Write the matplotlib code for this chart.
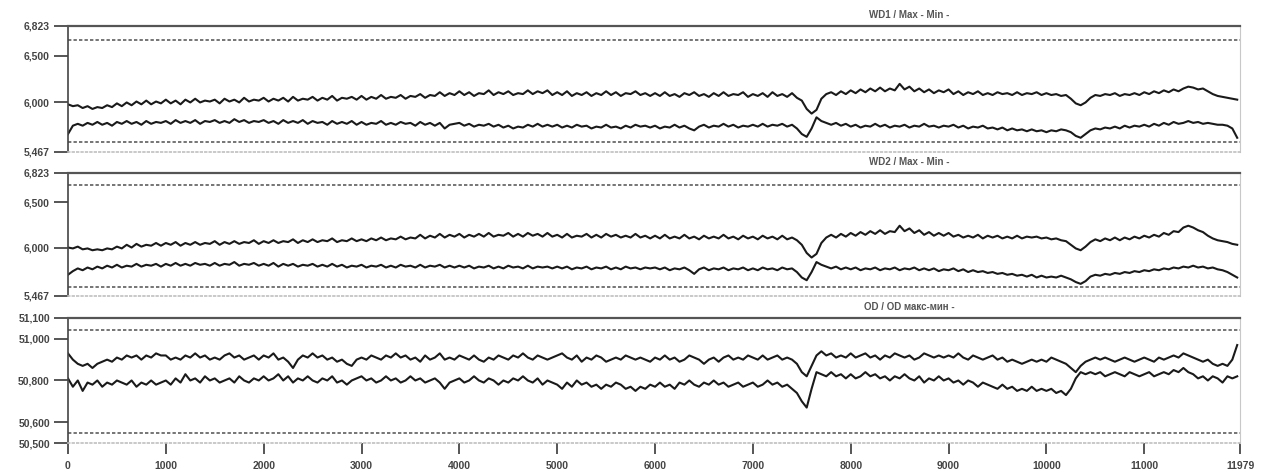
import numpy as np
import matplotlib.pyplot as plt

# sample positions (every 50 points along the record)
x = np.arange(240) * 50

wd1_upper = [
    5.98, 5.96, 5.97, 5.94, 5.96, 5.93, 5.95, 5.94, 5.97, 5.95, 5.99, 5.96, 6.00, 5.97, 6.01, 5.98, 6.02, 5.98, 6.01, 5.99,
    6.03, 5.99, 6.02, 5.98, 6.03, 6.00, 6.04, 6.00, 6.02, 6.01, 6.03, 5.99, 6.04, 6.01, 6.03, 6.00, 6.05, 6.01, 6.03, 6.02,
    6.05, 6.01, 6.04, 6.02, 6.05, 6.01, 6.06, 6.02, 6.04, 6.03, 6.06, 6.02, 6.05, 6.03, 6.07, 6.02, 6.05, 6.04, 6.06, 6.03,
    6.07, 6.03, 6.06, 6.04, 6.08, 6.04, 6.06, 6.05, 6.08, 6.04, 6.07, 6.06, 6.09, 6.05, 6.08, 6.07, 6.11, 6.07, 6.10, 6.08,
    6.12, 6.08, 6.11, 6.07, 6.10, 6.09, 6.13, 6.08, 6.11, 6.09, 6.12, 6.08, 6.10, 6.09, 6.13, 6.09, 6.12, 6.10, 6.13, 6.08,
    6.11, 6.08, 6.12, 6.07, 6.10, 6.08, 6.11, 6.07, 6.10, 6.08, 6.12, 6.08, 6.11, 6.07, 6.10, 6.09, 6.12, 6.08, 6.10, 6.07,
    6.10, 6.07, 6.11, 6.07, 6.09, 6.06, 6.10, 6.08, 6.11, 6.07, 6.09, 6.06, 6.10, 6.07, 6.11, 6.07, 6.09, 6.08, 6.11, 6.06,
    6.09, 6.07, 6.10, 6.06, 6.11, 6.07, 6.09, 6.06, 6.10, 6.05, 6.02, 5.93, 5.88, 5.92, 6.04, 6.09, 6.11, 6.08, 6.12, 6.09,
    6.13, 6.10, 6.14, 6.11, 6.15, 6.12, 6.16, 6.12, 6.15, 6.13, 6.20, 6.14, 6.17, 6.12, 6.15, 6.11, 6.14, 6.10, 6.13, 6.11,
    6.14, 6.09, 6.12, 6.08, 6.11, 6.09, 6.12, 6.08, 6.10, 6.08, 6.11, 6.09, 6.10, 6.08, 6.11, 6.08, 6.10, 6.09, 6.11, 6.08,
    6.10, 6.08, 6.09, 6.07, 6.08, 6.04, 5.99, 5.97, 6.00, 6.05, 6.08, 6.07, 6.09, 6.08, 6.10, 6.07, 6.09, 6.08, 6.10, 6.08,
    6.11, 6.09, 6.12, 6.10, 6.13, 6.11, 6.14, 6.12, 6.15, 6.17, 6.16, 6.14, 6.15, 6.12, 6.09, 6.07, 6.06, 6.05, 6.04, 6.03,
]
wd1_lower = [
    5.66, 5.75, 5.77, 5.75, 5.78, 5.76, 5.79, 5.76, 5.78, 5.75, 5.79, 5.77, 5.80, 5.77, 5.79, 5.76, 5.80, 5.77, 5.79, 5.78,
    5.80, 5.77, 5.81, 5.78, 5.80, 5.78, 5.81, 5.77, 5.80, 5.79, 5.81, 5.78, 5.80, 5.78, 5.82, 5.79, 5.81, 5.78, 5.80, 5.79,
    5.81, 5.78, 5.80, 5.77, 5.81, 5.78, 5.80, 5.78, 5.81, 5.77, 5.80, 5.78, 5.79, 5.76, 5.80, 5.77, 5.79, 5.77, 5.80, 5.76,
    5.79, 5.76, 5.78, 5.77, 5.80, 5.76, 5.78, 5.76, 5.79, 5.77, 5.78, 5.75, 5.79, 5.76, 5.78, 5.75, 5.78, 5.72, 5.76, 5.77,
    5.78, 5.75, 5.77, 5.74, 5.76, 5.75, 5.77, 5.74, 5.76, 5.73, 5.75, 5.72, 5.74, 5.73, 5.76, 5.74, 5.77, 5.74, 5.76, 5.74,
    5.76, 5.73, 5.75, 5.73, 5.76, 5.74, 5.75, 5.72, 5.74, 5.73, 5.76, 5.73, 5.74, 5.72, 5.75, 5.73, 5.76, 5.74, 5.75, 5.73,
    5.75, 5.72, 5.74, 5.73, 5.76, 5.73, 5.75, 5.72, 5.70, 5.74, 5.76, 5.73, 5.75, 5.74, 5.77, 5.74, 5.76, 5.73, 5.75, 5.74,
    5.76, 5.74, 5.77, 5.74, 5.76, 5.75, 5.77, 5.74, 5.76, 5.72, 5.66, 5.63, 5.72, 5.84, 5.80, 5.78, 5.76, 5.78, 5.75, 5.77,
    5.74, 5.76, 5.73, 5.75, 5.74, 5.77, 5.74, 5.76, 5.73, 5.75, 5.74, 5.76, 5.73, 5.75, 5.74, 5.77, 5.74, 5.75, 5.73, 5.75,
    5.74, 5.76, 5.73, 5.75, 5.72, 5.74, 5.73, 5.75, 5.72, 5.73, 5.71, 5.73, 5.70, 5.72, 5.70, 5.71, 5.69, 5.71, 5.69, 5.70,
    5.68, 5.70, 5.69, 5.71, 5.70, 5.68, 5.64, 5.62, 5.66, 5.70, 5.72, 5.71, 5.73, 5.72, 5.74, 5.72, 5.75, 5.73, 5.75, 5.74,
    5.76, 5.74, 5.77, 5.75, 5.78, 5.76, 5.79, 5.77, 5.78, 5.80, 5.78, 5.79, 5.77, 5.78, 5.77, 5.76, 5.76, 5.75, 5.72, 5.62,
]

wd2_upper = [
    6.00, 5.99, 6.01, 5.98, 5.99, 5.97, 5.98, 5.97, 5.99, 5.98, 6.01, 5.99, 6.03, 6.00, 6.04, 6.01, 6.03, 6.02, 6.05, 6.02,
    6.05, 6.03, 6.06, 6.02, 6.05, 6.03, 6.06, 6.03, 6.05, 6.04, 6.07, 6.03, 6.06, 6.04, 6.07, 6.04, 6.06, 6.05, 6.08, 6.04,
    6.07, 6.05, 6.08, 6.05, 6.07, 6.06, 6.09, 6.05, 6.08, 6.06, 6.09, 6.06, 6.08, 6.07, 6.10, 6.06, 6.08, 6.07, 6.10, 6.07,
    6.09, 6.07, 6.10, 6.08, 6.11, 6.08, 6.10, 6.09, 6.12, 6.09, 6.11, 6.10, 6.14, 6.10, 6.13, 6.11, 6.15, 6.11, 6.14, 6.12,
    6.15, 6.11, 6.14, 6.12, 6.15, 6.12, 6.16, 6.12, 6.14, 6.13, 6.16, 6.12, 6.15, 6.12, 6.16, 6.13, 6.15, 6.12, 6.16, 6.12,
    6.14, 6.11, 6.15, 6.11, 6.13, 6.12, 6.15, 6.11, 6.14, 6.11, 6.15, 6.12, 6.14, 6.11, 6.13, 6.11, 6.15, 6.11, 6.13, 6.10,
    6.13, 6.10, 6.14, 6.10, 6.12, 6.10, 6.14, 6.10, 6.12, 6.09, 6.13, 6.10, 6.12, 6.10, 6.14, 6.10, 6.12, 6.09, 6.13, 6.10,
    6.12, 6.09, 6.13, 6.10, 6.12, 6.09, 6.13, 6.09, 6.11, 6.08, 6.03, 5.94, 5.89, 5.93, 6.05, 6.11, 6.14, 6.11, 6.15, 6.12,
    6.16, 6.13, 6.17, 6.14, 6.18, 6.15, 6.19, 6.15, 6.18, 6.17, 6.24, 6.18, 6.21, 6.16, 6.19, 6.14, 6.17, 6.13, 6.16, 6.13,
    6.16, 6.12, 6.14, 6.11, 6.13, 6.11, 6.14, 6.10, 6.13, 6.11, 6.13, 6.10, 6.12, 6.10, 6.13, 6.10, 6.12, 6.11, 6.12, 6.10,
    6.11, 6.09, 6.10, 6.08, 6.07, 6.03, 5.99, 5.97, 6.01, 6.06, 6.09, 6.07, 6.10, 6.08, 6.11, 6.08, 6.11, 6.09, 6.12, 6.10,
    6.13, 6.11, 6.14, 6.12, 6.16, 6.14, 6.18, 6.17, 6.22, 6.24, 6.22, 6.19, 6.17, 6.13, 6.10, 6.08, 6.07, 6.06, 6.04, 6.03,
]
wd2_lower = [
    5.70, 5.74, 5.77, 5.75, 5.78, 5.76, 5.79, 5.77, 5.80, 5.78, 5.81, 5.78, 5.80, 5.79, 5.82, 5.79, 5.81, 5.80, 5.82, 5.79,
    5.82, 5.80, 5.83, 5.80, 5.82, 5.80, 5.83, 5.81, 5.82, 5.80, 5.83, 5.80, 5.82, 5.81, 5.84, 5.80, 5.82, 5.81, 5.83, 5.80,
    5.82, 5.80, 5.83, 5.79, 5.82, 5.80, 5.82, 5.79, 5.81, 5.80, 5.82, 5.79, 5.81, 5.79, 5.82, 5.79, 5.81, 5.78, 5.80, 5.79,
    5.81, 5.78, 5.80, 5.79, 5.81, 5.78, 5.80, 5.78, 5.81, 5.79, 5.80, 5.78, 5.81, 5.78, 5.80, 5.79, 5.81, 5.78, 5.80, 5.78,
    5.80, 5.78, 5.80, 5.77, 5.79, 5.78, 5.80, 5.77, 5.79, 5.77, 5.80, 5.78, 5.79, 5.77, 5.80, 5.77, 5.79, 5.78, 5.79, 5.77,
    5.79, 5.77, 5.79, 5.76, 5.78, 5.77, 5.79, 5.76, 5.78, 5.77, 5.79, 5.76, 5.78, 5.76, 5.79, 5.77, 5.78, 5.76, 5.78, 5.77,
    5.78, 5.76, 5.78, 5.75, 5.77, 5.76, 5.78, 5.75, 5.71, 5.76, 5.78, 5.75, 5.77, 5.76, 5.78, 5.75, 5.77, 5.76, 5.78, 5.75,
    5.77, 5.75, 5.78, 5.76, 5.77, 5.75, 5.78, 5.76, 5.77, 5.73, 5.67, 5.64, 5.73, 5.84, 5.81, 5.79, 5.77, 5.79, 5.76, 5.78,
    5.76, 5.78, 5.75, 5.77, 5.76, 5.78, 5.75, 5.77, 5.76, 5.78, 5.75, 5.77, 5.76, 5.78, 5.75, 5.77, 5.75, 5.77, 5.74, 5.76,
    5.75, 5.77, 5.74, 5.76, 5.73, 5.75, 5.73, 5.74, 5.72, 5.73, 5.71, 5.72, 5.70, 5.71, 5.69, 5.70, 5.68, 5.70, 5.67, 5.69,
    5.67, 5.68, 5.67, 5.69, 5.67, 5.65, 5.62, 5.60, 5.63, 5.68, 5.70, 5.69, 5.71, 5.70, 5.72, 5.71, 5.73, 5.72, 5.74, 5.73,
    5.75, 5.74, 5.76, 5.75, 5.77, 5.76, 5.78, 5.77, 5.79, 5.78, 5.80, 5.78, 5.79, 5.77, 5.78, 5.76, 5.75, 5.73, 5.70, 5.67,
]

od_upper = [
    50.93, 50.90, 50.88, 50.87, 50.88, 50.86, 50.88, 50.89, 50.90, 50.89, 50.91, 50.90, 50.92, 50.91, 50.92, 50.90, 50.92, 50.91, 50.93, 50.92,
    50.92, 50.90, 50.91, 50.90, 50.92, 50.91, 50.93, 50.91, 50.92, 50.90, 50.91, 50.90, 50.92, 50.93, 50.91, 50.92, 50.90, 50.91, 50.92, 50.90,
    50.92, 50.91, 50.93, 50.90, 50.91, 50.89, 50.86, 50.90, 50.92, 50.91, 50.93, 50.91, 50.92, 50.90, 50.91, 50.89, 50.90, 50.88, 50.87, 50.90,
    50.91, 50.90, 50.92, 50.91, 50.90, 50.92, 50.91, 50.93, 50.91, 50.92, 50.90, 50.91, 50.89, 50.92, 50.90, 50.91, 50.93, 50.90, 50.91, 50.90,
    50.92, 50.91, 50.90, 50.92, 50.90, 50.89, 50.91, 50.90, 50.92, 50.91, 50.90, 50.92, 50.91, 50.93, 50.91, 50.90, 50.92, 50.91, 50.90, 50.91,
    50.92, 50.93, 50.91, 50.90, 50.92, 50.89, 50.91, 50.90, 50.92, 50.91, 50.89, 50.90, 50.91, 50.90, 50.92, 50.91, 50.90, 50.91, 50.90, 50.89,
    50.91, 50.90, 50.92, 50.90, 50.91, 50.89, 50.90, 50.92, 50.91, 50.90, 50.88, 50.90, 50.91, 50.89, 50.91, 50.92, 50.90, 50.91, 50.90, 50.92,
    50.91, 50.90, 50.92, 50.90, 50.91, 50.92, 50.90, 50.91, 50.90, 50.88, 50.84, 50.82, 50.87, 50.92, 50.94, 50.92, 50.93, 50.91, 50.92, 50.91,
    50.93, 50.91, 50.92, 50.93, 50.91, 50.92, 50.90, 50.92, 50.91, 50.93, 50.92, 50.91, 50.92, 50.90, 50.91, 50.93, 50.92, 50.91, 50.92, 50.91,
    50.92, 50.91, 50.93, 50.91, 50.90, 50.92, 50.91, 50.90, 50.91, 50.92, 50.90, 50.91, 50.89, 50.90, 50.89, 50.88, 50.89, 50.90, 50.89, 50.90,
    50.89, 50.91, 50.90, 50.89, 50.88, 50.86, 50.84, 50.87, 50.89, 50.90, 50.91, 50.90, 50.91, 50.90, 50.89, 50.90, 50.91, 50.90, 50.89, 50.90,
    50.91, 50.90, 50.89, 50.91, 50.90, 50.91, 50.92, 50.91, 50.93, 50.92, 50.91, 50.90, 50.89, 50.90, 50.88, 50.87, 50.88, 50.87, 50.90, 50.97,
]
od_lower = [
    50.81, 50.77, 50.80, 50.75, 50.79, 50.78, 50.80, 50.77, 50.79, 50.78, 50.80, 50.79, 50.78, 50.80, 50.77, 50.79, 50.78, 50.80, 50.78, 50.79,
    50.80, 50.78, 50.81, 50.79, 50.83, 50.80, 50.81, 50.79, 50.82, 50.80, 50.81, 50.79, 50.80, 50.81, 50.79, 50.82, 50.80, 50.79, 50.81, 50.80,
    50.82, 50.80, 50.81, 50.83, 50.80, 50.82, 50.79, 50.81, 50.80, 50.82, 50.80, 50.79, 50.81, 50.80, 50.82, 50.79, 50.80, 50.78, 50.80, 50.81,
    50.82, 50.80, 50.81, 50.79, 50.80, 50.82, 50.80, 50.81, 50.79, 50.80, 50.82, 50.80, 50.81, 50.79, 50.80, 50.81, 50.79, 50.76, 50.79, 50.80,
    50.81, 50.79, 50.80, 50.82, 50.80, 50.79, 50.81, 50.80, 50.78, 50.80, 50.79, 50.81, 50.80, 50.82, 50.80, 50.79, 50.81, 50.78, 50.80, 50.79,
    50.78, 50.76, 50.79, 50.77, 50.80, 50.78, 50.79, 50.77, 50.78, 50.76, 50.78, 50.77, 50.79, 50.78, 50.76, 50.77, 50.75, 50.77, 50.76, 50.78,
    50.77, 50.79, 50.77, 50.78, 50.76, 50.79, 50.78, 50.80, 50.78, 50.77, 50.79, 50.78, 50.80, 50.78, 50.79, 50.77, 50.78, 50.79, 50.77, 50.78,
    50.79, 50.77, 50.78, 50.80, 50.78, 50.79, 50.77, 50.78, 50.76, 50.74, 50.70, 50.67, 50.76, 50.84, 50.83, 50.82, 50.84, 50.82, 50.83, 50.81,
    50.83, 50.81, 50.82, 50.84, 50.82, 50.83, 50.81, 50.82, 50.80, 50.82, 50.81, 50.83, 50.81, 50.80, 50.82, 50.79, 50.81, 50.80, 50.82, 50.80,
    50.81, 50.79, 50.80, 50.78, 50.80, 50.79, 50.77, 50.79, 50.78, 50.77, 50.76, 50.78, 50.76, 50.77, 50.75, 50.76, 50.75, 50.77, 50.75, 50.76,
    50.75, 50.76, 50.74, 50.75, 50.73, 50.76, 50.81, 50.84, 50.83, 50.84, 50.83, 50.84, 50.82, 50.83, 50.84, 50.83, 50.82, 50.84, 50.83, 50.82,
    50.83, 50.84, 50.82, 50.83, 50.84, 50.83, 50.85, 50.84, 50.86, 50.84, 50.83, 50.81, 50.82, 50.80, 50.82, 50.81, 50.79, 50.82, 50.81, 50.82,
]

titles = ["WD1 / Max - Min -", "WD2 / Max - Min -", "OD / OD макс-мин -"]
y_limits = [(5.467, 6.823), (5.467, 6.823), (50.5, 51.1)]
y_ticks = [[5.467, 6.0, 6.5, 6.823], [5.467, 6.0, 6.5, 6.823], [50.5, 50.6, 50.8, 51.0, 51.1]]
y_labels = [["5,467", "6,000", "6,500", "6,823"],
            ["5,467", "6,000", "6,500", "6,823"],
            ["50,500", "50,600", "50,800", "51,000", "51,100"]]
limit_lines = [(5.575, 6.67), (5.57, 6.69), (50.55, 51.04)]
x_ticks = [0, 1000, 2000, 3000, 4000, 5000, 6000, 7000, 8000, 9000, 10000, 11000, 11979]

series = [(wd1_upper, wd1_lower), (wd2_upper, wd2_lower), (od_upper, od_lower)]

plt.rcParams['font.family'] = ['Liberation Sans', 'DejaVu Sans']
fig = plt.figure(figsize=(12.66, 4.72), dpi=100)

boxes = [(0.0537, 0.678, 0.9258, 0.267),
         (0.0537, 0.373, 0.9258, 0.261),
         (0.0537, 0.0614, 0.9258, 0.265)]

for i in range(3):
    ax = fig.add_axes(boxes[i])
    up, lo = series[i]
    ax.plot(x, up, color='#1a1a1a', lw=1.5)
    ax.plot(x, lo, color='#1a1a1a', lw=1.5)
    for v in limit_lines[i]:
        ax.axhline(v, color='#505050', lw=1.1, ls=(0, (2.2, 1.4)))
    ax.set_xlim(0, 11979)
    ax.set_ylim(*y_limits[i])
    ax.set_yticks(y_ticks[i])
    ax.set_yticklabels(y_labels[i], fontsize=7.5, fontweight='bold', color='#444444')
    ax.tick_params(axis='y', length=10, width=1.4, color='#555555', pad=3)
    ax.spines['top'].set_color('#555555')
    ax.spines['top'].set_linewidth(1.6)
    ax.spines['left'].set_color('#444444')
    ax.spines['left'].set_linewidth(1.2)
    ax.spines['right'].set_color('#c8c8c8')
    ax.spines['right'].set_linewidth(0.8)
    ax.spines['bottom'].set_color('#c0c0c0')
    ax.spines['bottom'].set_linestyle(':')
    ax.spines['bottom'].set_linewidth(1.2)
    ax.text(0.718, 1.09, titles[i], transform=ax.transAxes, ha='center', va='center',
            fontsize=7, fontweight='bold', color='#555555')
    if i < 2:
        ax.set_xticks([])
    else:
        ax.set_xticks(x_ticks)
        ax.set_xticklabels([str(t) for t in x_ticks], fontsize=7.5, fontweight='bold', color='#444444')
        ax.tick_params(axis='x', length=8, width=1.4, color='#555555', pad=5)

fig.savefig('out.png', dpi=100)
